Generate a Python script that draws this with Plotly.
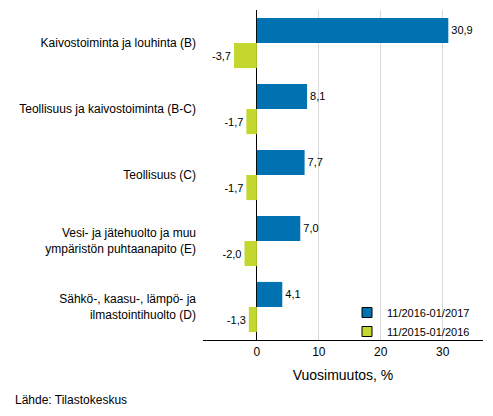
import plotly.graph_objects as go

categories = [
    "Kaivostoiminta ja louhinta (B)",
    "Teollisuus ja kaivostoiminta (B-C)",
    "Teollisuus (C)",
    "Vesi- ja jätehuolto ja muu<br>ympäristön puhtaanapito (E)",
    "Sähkö-, kaasu-, lämpö- ja<br>ilmastointihuolto (D)",
]
series_names = ["11/2016-01/2017", "11/2015-01/2016"]
values_2017 = [30.9, 8.1, 7.7, 7.0, 4.1]
values_2016 = [-3.7, -1.7, -1.7, -2.0, -1.3]
colors = ["#0072b1", "#c3d72f"]

font_family = "Arial, Liberation Sans, sans-serif"


def fmt(v):
    return f"{v:.1f}".replace(".", ",")


fig = go.Figure()

for name, vals, col in zip(series_names, [values_2017, values_2016], colors):
    fig.add_trace(
        go.Bar(
            y=categories,
            x=vals,
            orientation="h",
            name=name,
            marker=dict(color=col, line=dict(width=0)),
            text=[fmt(v) for v in vals],
            textposition="outside",
            textfont=dict(size=11, color="black"),
            cliponaxis=False,
            showlegend=False,
        )
    )

# legend entries with outlined squares
for name, col in zip(series_names, colors):
    fig.add_trace(
        go.Scatter(
            x=[None],
            y=[None],
            mode="markers",
            name=name,
            marker=dict(symbol="square", size=10, color=col, line=dict(color="black", width=1)),
        )
    )

# page has an 8px body margin, so the figure is a bit smaller than the window
fig.update_layout(
    width=485,
    height=408,
    margin=dict(l=195, r=10, t=2, b=76, autoexpand=False),
    plot_bgcolor="white",
    paper_bgcolor="white",
    font=dict(family=font_family, size=12, color="black"),
    barmode="group",
    bargap=0.24,
    bargroupgap=0,
    legend=dict(
        x=1 - 8 / 280,
        y=-6 / 330,
        xanchor="right",
        yanchor="bottom",
        bgcolor="rgba(0,0,0,0)",
        font=dict(size=11),
        itemwidth=30,
        tracegroupgap=0,
    ),
    annotations=[
        dict(
            text="Lähde: Tilastokeskus",
            xref="paper",
            yref="paper",
            x=-190 / 280,
            y=-60 / 330,
            xanchor="left",
            yanchor="middle",
            showarrow=False,
            font=dict(size=12),
        )
    ],
)

fig.update_xaxes(
    range=[-8.7, 36.5],
    tickvals=[0, 10, 20, 30],
    showgrid=True,
    gridcolor="#d9d9d9",
    zeroline=True,
    zerolinecolor="black",
    zerolinewidth=1.2,
    showline=True,
    linecolor="black",
    linewidth=1.2,
    ticks="",
    automargin=False,
    title=dict(text="Vuosimuutos, %", standoff=12),
)
fig.update_yaxes(
    autorange="reversed",
    showgrid=False,
    ticks="",
    automargin=False,
    ticklabelstandoff=6,
)

fig.write_html("out.html")
